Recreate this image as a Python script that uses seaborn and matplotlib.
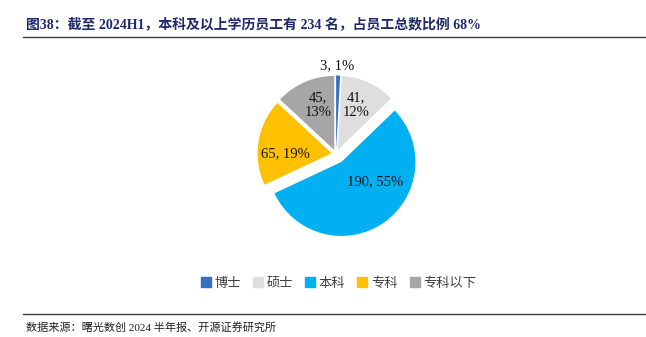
import numpy as np
import matplotlib
matplotlib.use("Agg")
import matplotlib.pyplot as plt
import seaborn as sns
from matplotlib.lines import Line2D

# ---- data ----
categories = ["博士", "硕士", "本科", "专科", "专科以下"]
counts = [3, 41, 190, 65, 45]
percents = [1, 12, 55, 19, 13]
label_seps = [", ", ",\n", ", ", ", ", ",\n"]
colors = ["#3370C4", "#DEDEDE", "#00B0F0", "#FFC000", "#A6A6A6"]
explode = [0.06, 0.06, 0.13, 0.06, 0.06]
label_dist = [1.13, 0.655, 0.53, 0.63, 0.645]
label_turn = [1.0, 2.6, 24.6, 9.7, -3.8]

title = "图38：截至 2024H1，本科及以上学历员工有 234 名，占员工总数比例 68%"
source = "数据来源：曙光数创 2024 半年报、开源证券研究所"

sns.set_theme(style="white")
plt.rcParams["font.family"] = ["Liberation Serif", "Noto Sans CJK SC", "DejaVu Sans"]

W, H = 646, 337
fig = plt.figure(figsize=(W / 100, H / 100), dpi=100)

# pie axes
R = 74.0
cx, cy = 336.0, 154.0
half = 1.3 * R
ax = fig.add_axes([(cx - half) / W, (H - cy - half) / H, 2 * half / W, 2 * half / H])
wedges, _ = ax.pie(counts, colors=colors, startangle=90, counterclock=False,
                   explode=explode, radius=1.0,
                   wedgeprops=dict(linewidth=0))
ax.set_xlim(-1.3, 1.3)
ax.set_ylim(-1.3, 1.3)
ax.set_aspect("equal")
ax.axis("off")

for w, c, p, sep, d, t in zip(wedges, counts, percents, label_seps, label_dist, label_turn):
    ang = np.deg2rad((w.theta1 + w.theta2) / 2 + t)
    x0, y0 = w.center
    ax.text(x0 + d * np.cos(ang), y0 + d * np.sin(ang), f"{c}{sep}{p}%",
            ha="center", va="center", fontsize=10.5, color="#111111",
            family=["Liberation Serif"], linespacing=1.15)

# legend
handles = [Line2D([0], [0], marker="s", linestyle="none", markersize=7,
                  markerfacecolor=col, markeredgecolor=col) for col in colors]
fig.legend(handles, categories, loc="center", ncol=5,
           bbox_to_anchor=(339 / W, 1 - 283 / H), frameon=False,
           prop={"family": ["Noto Sans CJK SC"], "size": 9.5},
           handlelength=0.6, handletextpad=0.35, columnspacing=1.0,
           labelcolor="#404040")

# title
fig.text(26 / W, 1 - 24 / H, title, ha="left", va="center", fontsize=10,
         fontweight="bold", color="#1F2A6B",
         family=["Liberation Serif", "Noto Sans CJK SC"])
fig.add_artist(Line2D([23 / W, 1.0], [1 - 37 / H, 1 - 37 / H],
                      transform=fig.transFigure, color="#3A3A3A", linewidth=1.0))
fig.add_artist(Line2D([23 / W, 1.0], [1 - 314 / H, 1 - 314 / H],
                      transform=fig.transFigure, color="#3A3A3A", linewidth=1.0))
fig.text(26 / W, 1 - 327 / H, source, ha="left", va="center", fontsize=8,
         color="#222222", family=["Liberation Serif", "Noto Sans CJK SC"])

fig.savefig("out.png", dpi=100)
